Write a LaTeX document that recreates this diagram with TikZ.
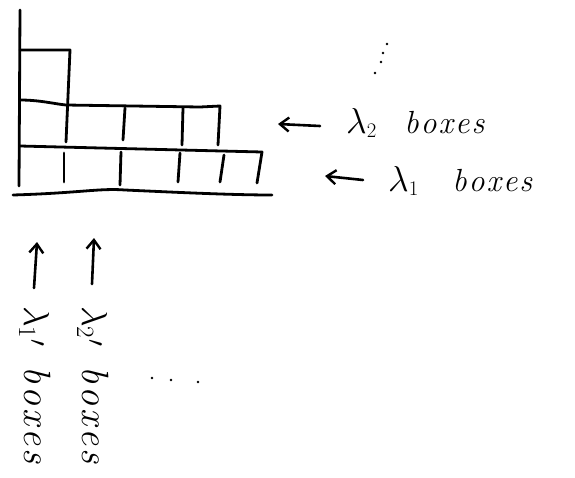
\documentclass[tikz,border=0pt]{standalone}
\usetikzlibrary{arrows.meta}
\newcommand{\Lam}[1]{\scalebox{1.45}{$\lambda$}\raisebox{-4pt}{$\scriptstyle #1$}}
\newcommand{\Lamp}[1]{\scalebox{1.45}{$\lambda$}\raisebox{-5pt}{$\scriptstyle #1$}\kern1pt\raisebox{6pt}{$\scriptstyle\prime$}}
\newcommand{\bxs}[1]{b\kern#1 o\kern#1 x\kern#1 e\kern#1 s}
\begin{document}
\begin{tikzpicture}[x=1pt,y=-1pt,
  pen/.style={line width=2.8pt,line cap=round,line join=round},
  arr/.style={line width=2.6pt,line cap=round,-{Straight Barb[length=9pt,width=14pt,line width=2.4pt]}},
  lab/.style={font=\fontsize{32}{36}\selectfont\itshape,inner sep=0pt},
  vlab/.style={font=\fontsize{38}{42}\selectfont\itshape,inner sep=0pt,rotate=-90,anchor=base west},
  dot/.style={circle,fill,inner sep=0pt,minimum size=2.8pt}]
\useasboundingbox (0,0) rectangle (575,477);
% axes
\coordinate (ytop) at (20,10);
\coordinate (ybot) at (19,186);
\draw[pen] (ytop) -- (ybot);
\coordinate (bl) at (13,195);
\coordinate (br) at (272,195);
\draw[pen] (bl) .. controls (80,193) and (100,188) .. (125,190) .. controls (170,192) and (230,195) .. (br);
% row 3 (top, one box)
\draw[pen] (20,50) -- (70,50) -- (66,142);
% row 2
\draw[pen] (20,100) .. controls (40,100) and (55,104) .. (66,105) -- (200,107) -- (220,106) -- (218,145);
\draw[pen] (125,108) -- (123,140);
\draw[pen] (183,108) -- (182,145);
% row 1
\draw[pen] (20,146) -- (262,152) -- (257,183);
\draw[pen] (64,153) -- (64,182);
\draw[pen] (121,152) -- (120,185);
\draw[pen] (180,153) -- (178,182);
\draw[pen] (224,155) -- (220,182);
% right labels
\coordinate (a2s) at (320,126);
\coordinate (a2e) at (278,124);
\draw[arr] (a2s) -- (a2e);
\node[lab,anchor=base west] (l2) at (346,133) {\Lam{2}\hspace{28pt}\bxs{2pt}};
\coordinate (a1s) at (363,180);
\coordinate (a1e) at (325,176);
\draw[arr] (a1s) -- (a1e);
\node[lab,anchor=base west] (l1) at (388,191) {\Lam{1}\hspace{34pt}\bxs{2pt}};
% dots upper
\node[dot] (d1) at (387,44) {};
\node[dot] (d2) at (383,53) {};
\node[dot] (d3) at (381,62) {};
\node[dot] (d4) at (375,73) {};
% bottom arrows
\coordinate (b1s) at (34,288);
\coordinate (b1e) at (37,242);
\draw[arr] (b1s) -- (b1e);
\coordinate (b2s) at (92,284);
\coordinate (b2e) at (94,238);
\draw[arr] (b2s) -- (b2e);
% rotated labels
\node[vlab] (c1) at (24,306) {\Lamp{1}\hspace{20pt}\bxs{3pt}};
\node[vlab] (c2) at (82,306) {\Lamp{2}\hspace{20pt}\bxs{3pt}};
% dots lower
\node[dot] (e1) at (152,378) {};
\node[dot] (e2) at (171,380) {};
\node[dot] (e3) at (198,382) {};
\end{tikzpicture}
\end{document}
